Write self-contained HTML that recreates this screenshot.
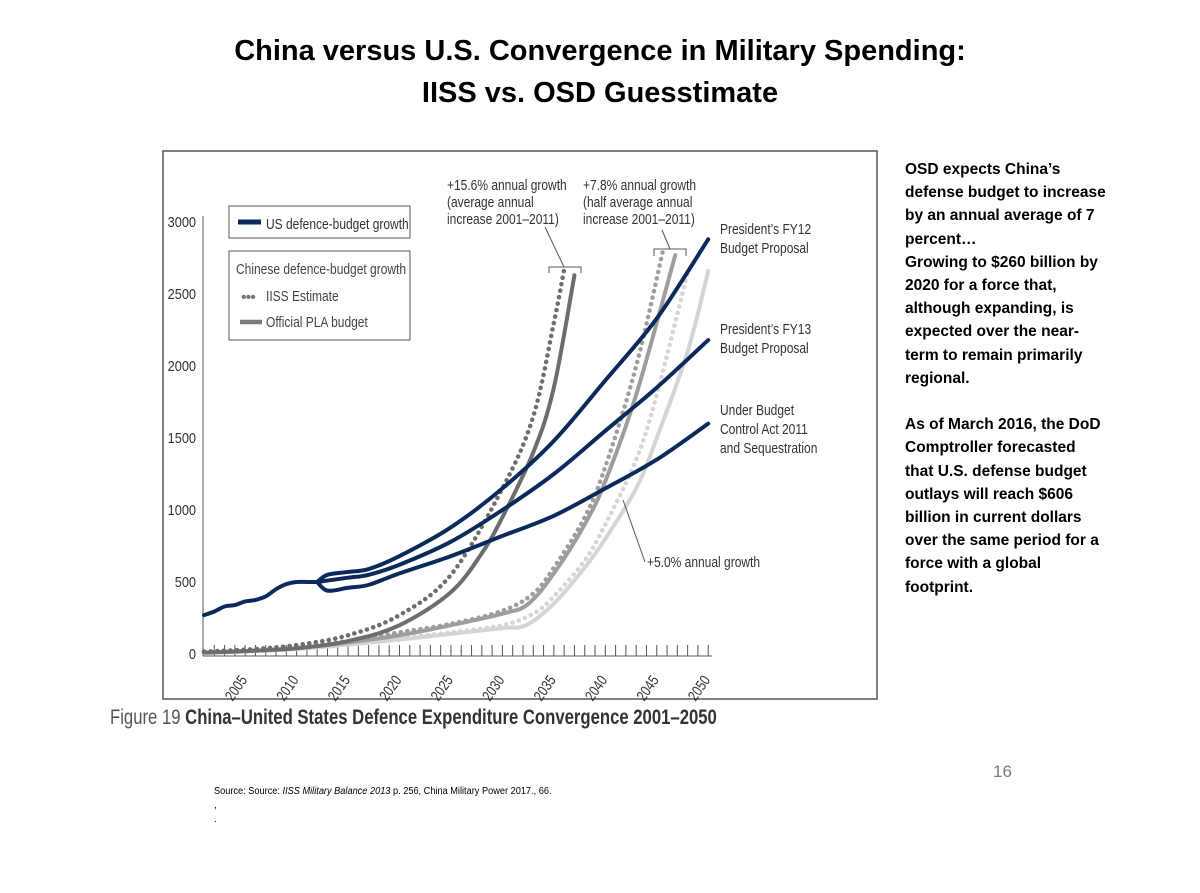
<!DOCTYPE html>
<html><head><meta charset="utf-8">
<style>
html,body{margin:0;padding:0;background:#fff;}
body{width:1200px;height:893px;position:relative;overflow:hidden;font-family:"Liberation Sans",sans-serif;}
.title{position:absolute;left:0;width:1200px;text-align:center;font-weight:bold;font-size:29px;color:#000;}
.side{position:absolute;left:905px;top:158px;width:290px;font-weight:bold;font-size:15.5px;line-height:23.2px;color:#000;white-space:nowrap;}
.cap{position:absolute;left:110px;top:706px;font-size:21px;color:#555;white-space:nowrap;transform:scaleX(0.795);transform-origin:left top;}
.cap b{color:#333;}
.src{position:absolute;left:214px;top:786px;font-size:10px;color:#000;white-space:nowrap;transform:scaleX(0.92);transform-origin:left top;}
.pg{position:absolute;left:993px;top:762px;font-size:17px;color:#777;}
.dot{position:absolute;left:214px;font-size:10px;}
</style></head>
<body>
<div class="title" style="top:35px">China versus U.S. Convergence in Military Spending:</div>
<div class="title" style="top:77px">IISS vs. OSD Guesstimate</div>
<div class="side">OSD expects China’s<br>defense budget to increase<br>by an annual average of 7<br>percent…<br>Growing to $260 billion by<br>2020 for a force that,<br>although expanding, is<br>expected over the near-<br>term to remain primarily<br>regional.<br><br>As of March 2016, the DoD<br>Comptroller forecasted<br>that U.S. defense budget<br>outlays will reach $606<br>billion in current dollars<br>over the same period for a<br>force with a global<br>footprint.</div>
<div class="cap">Figure 19 <b>China–United States Defence Expenditure Convergence 2001–2050</b></div>
<div class="pg">16</div>
<div class="src">Source: Source: <i>IISS Military Balance 2013</i> p. 256, China Military Power 2017., 66.</div>
<div class="dot" style="top:800px">,</div>
<div class="dot" style="top:814px">.</div>

<svg id="chart" style="position:absolute;left:0;top:0" width="1200" height="893">
<rect x="163" y="151" width="714" height="548" fill="none" stroke="#555" stroke-width="1.5"/>
<g id="axes"></g>
<g id="series"></g>
<g>
<rect x="229" y="206" width="181" height="32" fill="#fff" stroke="#555"/>
<line x1="238" y1="222" x2="261" y2="222" stroke="#0b2a5b" stroke-width="5"/>
<text class="n" x="266" y="229" font-size="15" fill="#333">US defence-budget growth</text>
<rect x="229" y="251" width="181" height="89" fill="#fff" stroke="#555"/>
<text class="n" x="236" y="274" font-size="15" fill="#444">Chinese defence-budget growth</text>
<text x="241" y="302" font-size="16" fill="#777" letter-spacing="-1">•••</text>
<text class="n" x="266" y="301" font-size="15" fill="#444">IISS Estimate</text>
<line x1="240" y1="322" x2="262" y2="322" stroke="#7a7a7a" stroke-width="4.5"/>
<text class="n" x="266" y="327" font-size="15" fill="#444">Official PLA budget</text>
</g>
<g font-size="15" fill="#333">
<text class="n" x="447" y="190">+15.6% annual growth</text>
<text class="n" x="447" y="207">(average annual</text>
<text class="n" x="447" y="224">increase 2001–2011)</text>
<text class="n" x="583" y="190">+7.8% annual growth</text>
<text class="n" x="583" y="207">(half average annual</text>
<text class="n" x="583" y="224">increase 2001–2011)</text>
<text class="n" x="720" y="234">President’s FY12</text>
<text class="n" x="720" y="253">Budget Proposal</text>
<text class="n" x="720" y="334">President’s FY13</text>
<text class="n" x="720" y="353">Budget Proposal</text>
<text class="n" x="720" y="415">Under Budget</text>
<text class="n" x="720" y="434">Control Act 2011</text>
<text class="n" x="720" y="453">and Sequestration</text>
<text class="n" x="647" y="567">+5.0% annual growth</text>
</g>
<g stroke="#555" fill="none" stroke-width="1">
<polyline points="549,273 549,267 581,267 581,273"/><line x1="564" y1="267" x2="545" y2="227"/>
<polyline points="654,256 654,249 686,249 686,256"/><line x1="670" y1="249" x2="662" y2="230"/>
<line x1="623" y1="500" x2="645" y2="562"/>
</g>
</svg>

<script>
const yTicks=[0,500,1000,1500,2000,2500,3000];
const xTicks=[2005,2010,2015,2020,2025,2030,2035,2040,2045,2050];
const usHistYears=[2001,2002,2003,2004,2005,2006,2007,2008,2009,2010,2011,2012];
const usHistVals=[270,295,330,340,365,375,400,450,485,500,500,500];
const fy12Years=[2012,2013,2015,2017,2020,2025,2030,2035,2040,2045,2050];
const fy12Vals=[500,550,570,590,680,880,1150,1480,1900,2330,2880];
const fy13Years=[2012,2013,2015,2017,2020,2025,2030,2035,2040,2045,2050];
const fy13Vals=[500,510,530,550,620,780,1000,1250,1550,1850,2180];
const bcaYears=[2012,2013,2015,2017,2020,2025,2030,2035,2040,2045,2050];
const bcaVals=[500,440,460,480,560,680,820,960,1150,1350,1600];
const iissHighYears=[2001,2005,2010,2015,2020,2025,2030,2033,2035,2036];
const iissHighVals=[17,30,62,130,270,550,1150,1650,2300,2670];
const plaHighYears=[2001,2005,2010,2015,2020,2025,2028,2030,2033,2035,2037];
const plaHighVals=[10,20,40,90,200,430,700,950,1400,1850,2630];
const iissMidYears=[2001,2005,2010,2015,2020,2025,2030,2033,2035,2038,2040,2043,2045.6];
const iissMidVals=[15,25,50,90,150,210,300,420,600,950,1300,2000,2800];
const plaMidYears=[2001,2005,2010,2015,2020,2025,2030,2032.5,2035,2038,2040,2043,2046.8];
const plaMidVals=[10,20,40,80,130,200,280,347,560,900,1200,1800,2770];
const iissLowYears=[2001,2005,2010,2015,2020,2025,2030,2033,2035,2038,2040,2043,2045,2048];
const iissLowVals=[10,20,40,70,110,150,200,280,400,650,900,1350,1800,2650];
const plaLowYears=[2001,2005,2010,2015,2020,2025,2030,2032.3,2035,2038,2040,2043,2045,2048,2050];
const plaLowVals=[8,18,35,65,100,140,180,200,350,600,800,1150,1500,2100,2660];

const NS='http://www.w3.org/2000/svg';
function xs(yr){return 204+(yr-2001)*10.29;}
function ys(v){return 654-v*0.144;}
function mk(tag,attrs,parent){const e=document.createElementNS(NS,tag);for(const k in attrs)e.setAttribute(k,attrs[k]);parent.appendChild(e);return e;}
const ax=document.getElementById('axes');
mk('line',{x1:203,y1:216,x2:203,y2:656,stroke:'#555','stroke-width':1},ax);
mk('line',{x1:203,y1:656,x2:712,y2:656,stroke:'#555','stroke-width':1},ax);
for(let yr=2002;yr<=2050;yr++){
  const t=mk('line',{x1:xs(yr),y1:645,x2:xs(yr),y2:656,stroke:'#555','stroke-width':1},ax);
  
  
}
yTicks.forEach(v=>{
  const t=mk('text',{x:196,y:ys(v)+5,'text-anchor':'end','font-size':15,fill:'#333',class:'n'},ax);
  t.textContent=v;
  
  
});
xTicks.forEach(yr=>{
  const x=xs(yr)-5,y=691;
  const t=mk('text',{x:x,y:y,'text-anchor':'middle','font-size':15,fill:'#333',transform:`rotate(-55 ${x} ${y}) translate(${x} 0) scale(0.8 1) translate(${-x} 0)`},ax);
  t.textContent=yr;
  
  
});
function path(years,vals){
  const p=years.map((y,i)=>[xs(y),ys(vals[i])]);
  let d='M'+p[0][0]+','+p[0][1];
  for(let i=1;i<p.length;i++){
    const p0=p[i-2]||p[i-1],p1=p[i-1],p2=p[i],p3=p[i+1]||p[i];
    const c1x=p1[0]+(p2[0]-p0[0])/6,c1y=p1[1]+(p2[1]-p0[1])/6;
    const c2x=p2[0]-(p3[0]-p1[0])/6,c2y=p2[1]-(p3[1]-p1[1])/6;
    d+=` C${c1x},${c1y} ${c2x},${c2y} ${p2[0]},${p2[1]}`;
  }
  return d;
}
const sg=document.getElementById('series');
function line(years,vals,color,w,dotted,name){
  const a={d:path(years,vals),fill:'none',stroke:color,'stroke-width':w,'stroke-linecap':'round'};
  if(dotted)a['stroke-dasharray']='0.1 6.5';
  const e=mk('path',a,sg);
  
  
}
line(plaLowYears,plaLowVals,'#d4d4d6',4,false,'pla-5pct-line');
line(iissLowYears,iissLowVals,'#d4d4d6',4.5,true,'iiss-5pct-line');
line(plaMidYears,plaMidVals,'#9d9d9f',4,false,'pla-7-8pct-line');
line(iissMidYears,iissMidVals,'#9d9d9f',4.5,true,'iiss-7-8pct-line');
line(plaHighYears,plaHighVals,'#6d6d6f',4,false,'pla-15-6pct-line');
line(iissHighYears,iissHighVals,'#6d6d6f',4.5,true,'iiss-15-6pct-line');
line(usHistYears,usHistVals,'#0b2a5b',4,false,'us-historical-line');
line(fy12Years,fy12Vals,'#0b2a5b',4,false,'us-fy12-line');
line(fy13Years,fy13Vals,'#0b2a5b',4,false,'us-fy13-line');
line(bcaYears,bcaVals,'#0b2a5b',4,false,'us-bca-line');
document.querySelectorAll('svg text.n').forEach(t=>{
  const x=+t.getAttribute('x');
  const anchorEnd=t.getAttribute('text-anchor')==='end';
  t.setAttribute('transform',`translate(${x} 0) scale(${anchorEnd?0.85:0.8} 1) translate(${-x} 0)`);
});
</script>
</body></html>
